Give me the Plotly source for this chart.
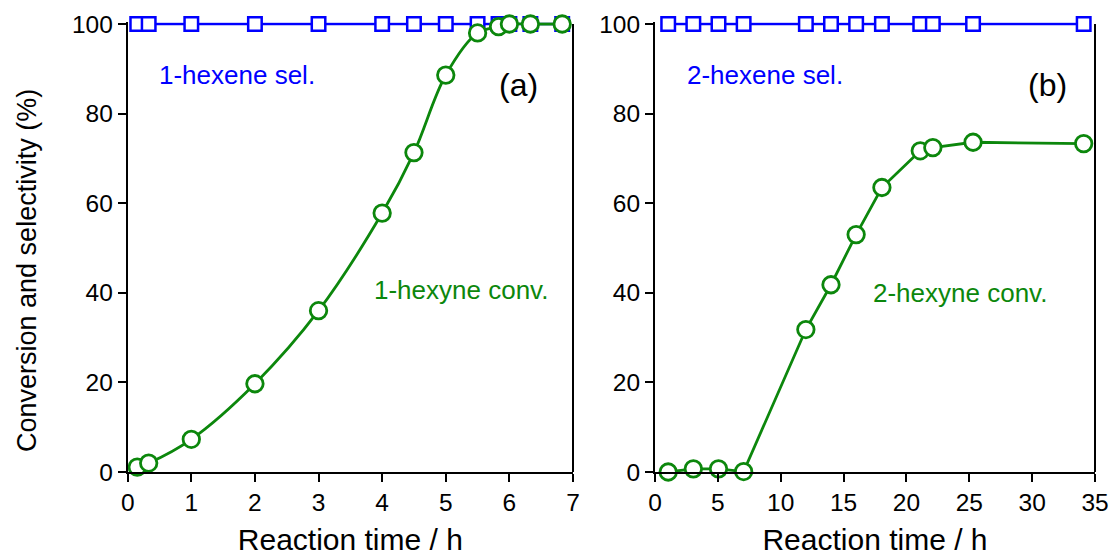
import plotly.graph_objects as go

# Panel (a): 1-hexyne
time_a = [0.15, 0.33, 1.0, 2.0, 3.0, 4.0, 4.5, 5.0, 5.5, 5.83, 6.0, 6.33, 6.83]
sel_a = [100, 100, 100, 100, 100, 100, 100, 100, 100, 100, 100, 100, 100]
conv_a = [1.1, 2.0, 7.3, 19.7, 36.0, 57.8, 71.3, 88.6, 98.0, 99.4, 100, 100, 100]

# Panel (b): 2-hexyne
time_b = [1.05, 3.05, 5.05, 7.05, 12.0, 14.0, 16.0, 18.05, 21.1, 22.1, 25.3, 34.1]
sel_b = [100, 100, 100, 100, 100, 100, 100, 100, 100, 100, 100, 100]
conv_b = [0.0, 0.7, 0.7, 0.1, 31.8, 41.8, 53.0, 63.5, 71.7, 72.4, 73.6, 73.3]

x_ticks_a = [0, 1, 2, 3, 4, 5, 6, 7]
x_ticks_b = [0, 5, 10, 15, 20, 25, 30, 35]
y_ticks = [0, 20, 40, 60, 80, 100]

BLUE = "#0000ff"
GREEN = "#0c870c"
FONT = "Liberation Sans, Arial, sans-serif"

fig = go.Figure()

sq = dict(symbol="square", size=13.5, color="white", line=dict(color=BLUE, width=2.5))
ci = dict(symbol="circle", size=16.5, color="white", line=dict(color=GREEN, width=2.8))

fig.add_trace(go.Scatter(x=time_a, y=sel_a, mode="lines+markers", xaxis="x", yaxis="y",
                         line=dict(color=BLUE, width=2.4), marker=sq, cliponaxis=False))
fig.add_trace(go.Scatter(x=time_a, y=conv_a, mode="lines+markers", xaxis="x", yaxis="y",
                         line=dict(color=GREEN, width=2.8, shape="spline", smoothing=1.0),
                         marker=ci, cliponaxis=False))
fig.add_trace(go.Scatter(x=time_b, y=sel_b, mode="lines+markers", xaxis="x2", yaxis="y2",
                         line=dict(color=BLUE, width=2.4), marker=sq, cliponaxis=False))
fig.add_trace(go.Scatter(x=time_b, y=conv_b, mode="lines+markers", xaxis="x2", yaxis="y2",
                         line=dict(color=GREEN, width=2.8),
                         marker=ci, cliponaxis=False))

W, H = 1110, 558
Y_TOP = 100.4
px_per_unit = (472 - 24) / 100
ydom = [(H - 472) / H, (H - (24 - (Y_TOP - 100) * px_per_unit)) / H]

axis_common = dict(showline=True, linecolor="black", linewidth=2, ticks="outside",
                   ticklen=8, tickwidth=2, tickcolor="black", showgrid=False,
                   zeroline=False, automargin=False,
                   tickfont=dict(family=FONT, size=24.5, color="black"))

xtitle = dict(text="Reaction time / h", font=dict(family=FONT, size=30, color="black"), standoff=14)

fig.update_layout(
    width=W, height=H,
    margin=dict(l=0, r=0, t=0, b=0),
    paper_bgcolor="white", plot_bgcolor="white",
    showlegend=False,
    xaxis=dict(domain=[127.7 / W, 573 / W], range=[0, 7], tickvals=x_ticks_a,
               title=xtitle, anchor="y", **axis_common),
    yaxis=dict(domain=ydom, range=[0, Y_TOP], tickvals=y_ticks, anchor="x", **axis_common),
    xaxis2=dict(domain=[655 / W, 1095 / W], range=[0, 35], tickvals=x_ticks_b,
                title=xtitle, anchor="y2", **axis_common),
    yaxis2=dict(domain=ydom, range=[0, Y_TOP], tickvals=y_ticks, anchor="x2", **axis_common),
)

# right spines
for xr, yr in [("x domain", "y"), ("x2 domain", "y2")]:
    fig.add_shape(type="line", xref=xr, yref=yr, x0=1, x1=1, y0=0, y1=100,
                  line=dict(color="black", width=2))

def ann(text, px, py, color, size, angle=0):
    fig.add_annotation(text=text, x=px / W, y=1 - py / H, xref="paper", yref="paper",
                       xanchor="center", yanchor="middle", showarrow=False, textangle=angle,
                       font=dict(family=FONT, size=size, color=color))

# y-axis title
ann("Conversion and selectivity (%)", 27, 271, "black", 27, angle=-90)

ann("1-hexene sel.", 237, 75, BLUE, 26)
ann("(a)", 518, 85, "black", 32)
ann("1-hexyne conv.", 461, 290, GREEN, 26)
ann("2-hexene sel.", 765, 75, BLUE, 26)
ann("(b)", 1047, 85, "black", 32)
ann("2-hexyne conv.", 960, 293, GREEN, 26)

fig.write_html("out.html")
